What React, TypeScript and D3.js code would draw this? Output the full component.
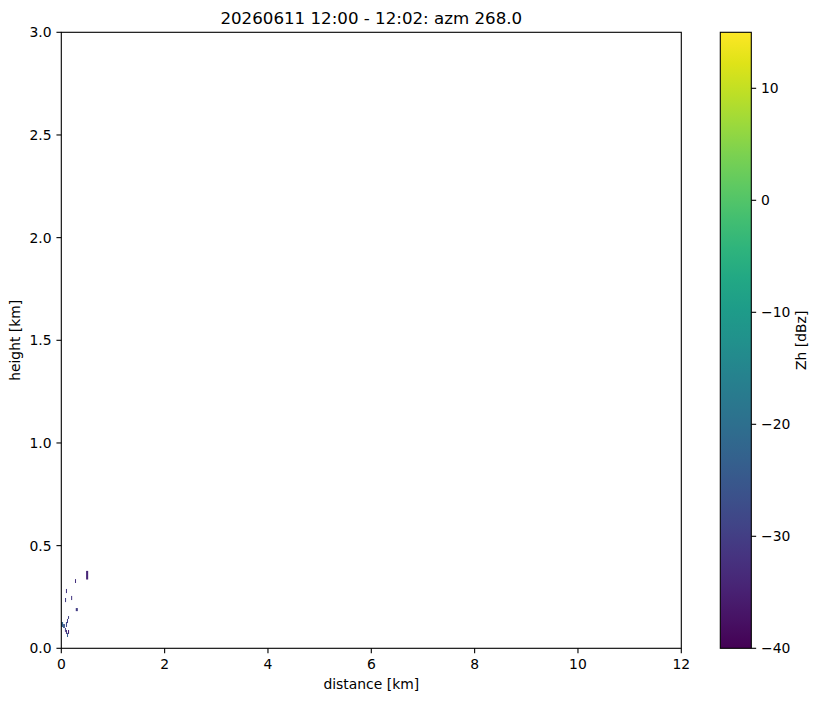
import React from "react"
import * as d3 from "d3"

// radar cells: distance (km), width (km), height bottom/top (km), Zh (dBz)
const cellDist = [0.48, 0.265, 0.09, 0.072, 0.19, 0.28, 0.13, 0.11, 0.09, 0.0, 0.035, 0.07, 0.09, 0.13, 0.11]
const cellWidth = [0.04, 0.02, 0.02, 0.02, 0.02, 0.04, 0.02, 0.02, 0.02, 0.035, 0.035, 0.02, 0.02, 0.02, 0.02]
const cellBottom = [0.335, 0.318, 0.269, 0.225, 0.235, 0.181, 0.143, 0.123, 0.104, 0.104, 0.099, 0.08, 0.07, 0.07, 0.055]
const cellTop = [0.377, 0.337, 0.289, 0.245, 0.255, 0.196, 0.157, 0.143, 0.128, 0.128, 0.118, 0.099, 0.089, 0.089, 0.075]
const cellValue = [-34, -32, -31, -30, -31, -30, -29, -30, -28, -22, -26, -30, -33, -34, -24]

const xTicks = [0, 2, 4, 6, 8, 10, 12]
const yTicks = [0, 0.5, 1.0, 1.5, 2.0, 2.5, 3.0]
const cbTicks = [-40, -30, -20, -10, 0, 10]
const zMin = -40
const zMax = 15

const title = "20260611 12:00 - 12:02: azm 268.0"

export default function App() {
  const width = 819
  const height = 701
  const plot = { left: 61.3, right: 681.3, top: 32.3, bottom: 648.3 }
  const cb = { left: 720.3, right: 751.3 }
  const font = "'DejaVu Sans', sans-serif"
  const tickLen = 4.86
  const fs = 13.9

  const x = d3.scaleLinear().domain([0, 12]).range([plot.left, plot.right])
  const y = d3.scaleLinear().domain([0, 3]).range([plot.bottom, plot.top])
  const z = d3.scaleLinear().domain([zMin, zMax]).range([plot.bottom, plot.top])
  const color = d3.scaleSequential(d3.interpolateViridis).domain([zMin, zMax])

  const stops = d3.range(0, 1.0001, 0.05)

  return (
    <svg
      width={width}
      height={height}
      style={{ position: "absolute", left: 0, top: 0, background: "#fff" }}
      fontFamily={font}
    >
      <defs>
        <linearGradient id="viridis" x1="0" y1="1" x2="0" y2="0">
          {stops.map((t) => (
            <stop key={t} offset={t} stopColor={d3.interpolateViridis(t)} />
          ))}
        </linearGradient>
      </defs>

      <text x={(plot.left + plot.right) / 2} y={24} fontSize={16.67} textAnchor="middle">
        {title}
      </text>

      {/* data cells */}
      {cellDist.map((d, i) => (
        <rect
          key={i}
          x={x(d)}
          y={y(cellTop[i])}
          width={x(d + cellWidth[i]) - x(d)}
          height={y(cellBottom[i]) - y(cellTop[i])}
          fill={color(cellValue[i])}
        />
      ))}

      {/* frame */}
      <rect
        x={plot.left}
        y={plot.top}
        width={plot.right - plot.left}
        height={plot.bottom - plot.top}
        fill="none"
        stroke="#000"
        strokeWidth={1.1}
      />

      {xTicks.map((t) => (
        <g key={t} transform={`translate(${x(t)},${plot.bottom})`}>
          <line y2={tickLen} stroke="#000" strokeWidth={1.1} />
          <text y={tickLen + 4.86 + 11} fontSize={fs} textAnchor="middle">
            {t}
          </text>
        </g>
      ))}
      <text x={(plot.left + plot.right) / 2} y={689} fontSize={fs} textAnchor="middle">
        distance [km]
      </text>

      {yTicks.map((t) => (
        <g key={t} transform={`translate(${plot.left},${y(t)})`}>
          <line x2={-tickLen} stroke="#000" strokeWidth={1.1} />
          <text x={-tickLen - 4.86} dy="0.35em" fontSize={fs} textAnchor="end">
            {t.toFixed(1)}
          </text>
        </g>
      ))}
      <text
        transform={`translate(20,${(plot.top + plot.bottom) / 2}) rotate(-90)`}
        fontSize={fs}
        textAnchor="middle"
      >
        height [km]
      </text>

      {/* colorbar */}
      <rect
        x={cb.left}
        y={plot.top}
        width={cb.right - cb.left}
        height={plot.bottom - plot.top}
        fill="url(#viridis)"
        stroke="#000"
        strokeWidth={1.1}
      />
      {cbTicks.map((t) => (
        <g key={t} transform={`translate(${cb.right},${z(t)})`}>
          <line x2={tickLen} stroke="#000" strokeWidth={1.1} />
          <text x={tickLen + 4.86} dy="0.35em" fontSize={fs}>
            {t < 0 ? "\u2212" + Math.abs(t) : t}
          </text>
        </g>
      ))}
      <text
        transform={`translate(806,${(plot.top + plot.bottom) / 2}) rotate(-90)`}
        fontSize={fs}
        textAnchor="middle"
      >
        Zh [dBz]
      </text>
    </svg>
  )
}
